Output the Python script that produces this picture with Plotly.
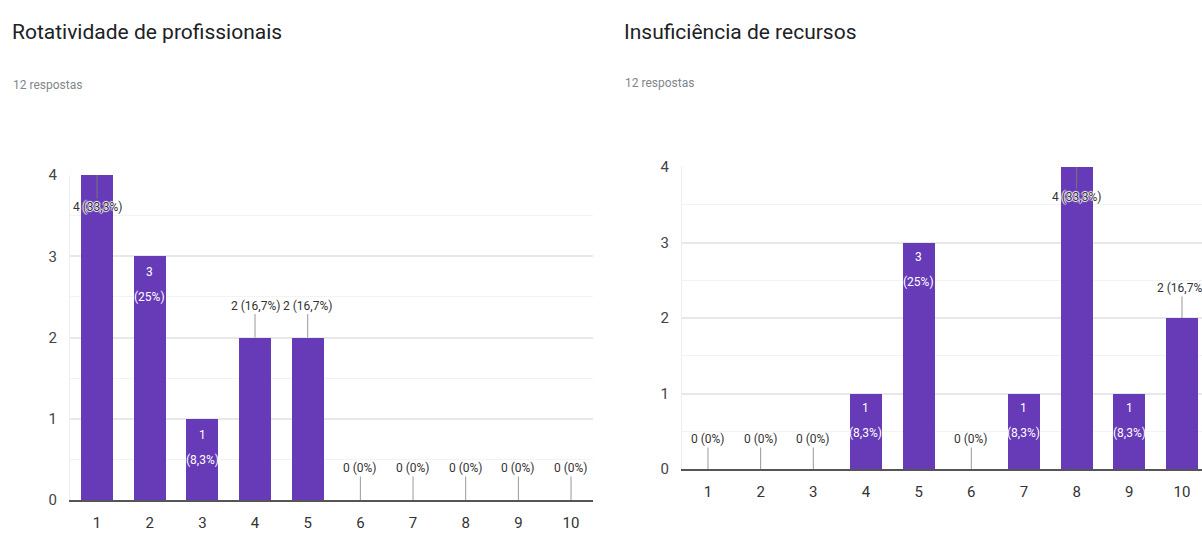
import plotly.graph_objects as go

# Survey answers on a 1-10 scale, two questions, 12 responses each
scale = [1, 2, 3, 4, 5, 6, 7, 8, 9, 10]
rotatividade = [4, 3, 1, 2, 2, 0, 0, 0, 0, 0]
insuficiencia = [0, 0, 0, 1, 3, 0, 1, 4, 1, 2]
titles = ["Rotatividade de profissionais", "Insuficiência de recursos"]
subtitle = "12 respostas"
total = 12

PURPLE = "#673ab7"
FONT = "Roboto, Arial, sans-serif"
TEXT = "#333333"
HALO = ("1px 0px 1px #fff, -1px 0px 1px #fff, 0px 1px 1px #fff, "
        "0px -1px 1px #fff")
W, H = 1202, 534


def pct(v):
    p = round(100 * v / total, 1)
    s = f"{p:.1f}".rstrip("0").rstrip(".")
    return s.replace(".", ",") + "%"


fig = go.Figure()

panels = [
    dict(vals=rotatividade, xa="x", ya="y", xdom=[70 / W, 593 / W],
         ydom=[34 / H, 359 / H], xr=[0.487, 10.417], tx=10, ttl_y=32, sub_y=85,
         in1=16, in2=41, lead=32),
    dict(vals=insuficiencia, xa="x2", ya="y2", xdom=[682 / W, 1.0],
         ydom=[65 / H, 367 / H], xr=[0.507, 10.38], tx=622, ttl_y=32, sub_y=83,
         in1=14, in2=39, lead=30),
]

annotations = []
for i, p in enumerate(panels):
    vals = p["vals"]
    peak = max(vals)
    fig.add_trace(go.Bar(
        x=scale, y=vals, width=0.61, marker=dict(color=PURPLE, line=dict(width=0)),
        xaxis=p["xa"], yaxis=p["ya"], showlegend=False, hoverinfo="skip",
    ))
    for x, v in zip(scale, vals):
        label = f"{v} ({pct(v)})"
        if v in (1, 3):
            # label fits inside the bar on two lines
            for txt, shift in ((str(v), p["in1"]), (f"({pct(v)})", p["in2"])):
                annotations.append(dict(
                    x=x, y=v, xref=p["xa"], yref=p["ya"], text=txt,
                    showarrow=False, yanchor="middle", yshift=-shift,
                    font=dict(family=FONT, size=12, color="white"),
                ))
        elif v == peak and v > 0:
            # tallest bar: label drops into the bar on a leader line
            annotations.append(dict(
                x=x, y=v, xref=p["xa"], yref=p["ya"], text=label,
                showarrow=True, arrowhead=0, arrowwidth=1, arrowcolor="#777",
                ax=0, ay=p["lead"], standoff=0,
                font=dict(family=FONT, size=12, color=TEXT, shadow=HALO),
            ))
        else:
            # short bars and empty categories: label above on a leader line
            annotations.append(dict(
                x=x, y=v, xref=p["xa"], yref=p["ya"], text=label,
                showarrow=True, arrowhead=0, arrowwidth=1, arrowcolor="#999",
                ax=0, ay=-p["lead"], standoff=0,
                font=dict(family=FONT, size=12, color=TEXT),
            ))

    annotations.append(dict(
        x=p["tx"] / W, y=1 - p["ttl_y"] / H, xref="paper", yref="paper",
        text=titles[i], showarrow=False, xanchor="left", yanchor="middle",
        font=dict(family=FONT, size=21, color="#202124"),
    ))
    annotations.append(dict(
        x=(p["tx"] + 1) / W, y=1 - p["sub_y"] / H, xref="paper", yref="paper",
        text=subtitle, showarrow=False, xanchor="left", yanchor="middle",
        font=dict(family=FONT, size=12, color="#80868b"),
    ))

    xkey = "xaxis" if i == 0 else "xaxis2"
    ykey = "yaxis" if i == 0 else "yaxis2"
    fig.update_layout({
        xkey: dict(
            domain=p["xdom"], range=p["xr"], anchor=p["ya"], automargin=False,
            tickvals=scale, ticktext=[str(s) for s in scale],
            showgrid=False, zeroline=False, showline=True,
            linecolor="#555", linewidth=2, ticks="", ticklabelstandoff=8,
            tickfont=dict(family=FONT, size=15, color="#333"),
        ),
        ykey: dict(
            domain=p["ydom"], range=[0, 4], anchor=p["xa"], automargin=False,
            tickvals=[0, 1, 2, 3, 4], showgrid=True, gridcolor="#e8e8e8",
            gridwidth=1.5, zeroline=False, showline=True, linecolor="#eeeeee",
            linewidth=1, ticks="", ticklabelstandoff=9,
            tickfont=dict(family=FONT, size=15, color="#444"),
            minor=dict(dtick=0.5, showgrid=True, gridcolor="#f3f3f3", gridwidth=1),
        ),
    })

fig.update_layout(
    width=W, height=H, margin=dict(l=0, r=0, t=0, b=0, autoexpand=False),
    paper_bgcolor="white", plot_bgcolor="white", bargap=0,
    annotations=annotations,
)

fig.write_html("out.html")
